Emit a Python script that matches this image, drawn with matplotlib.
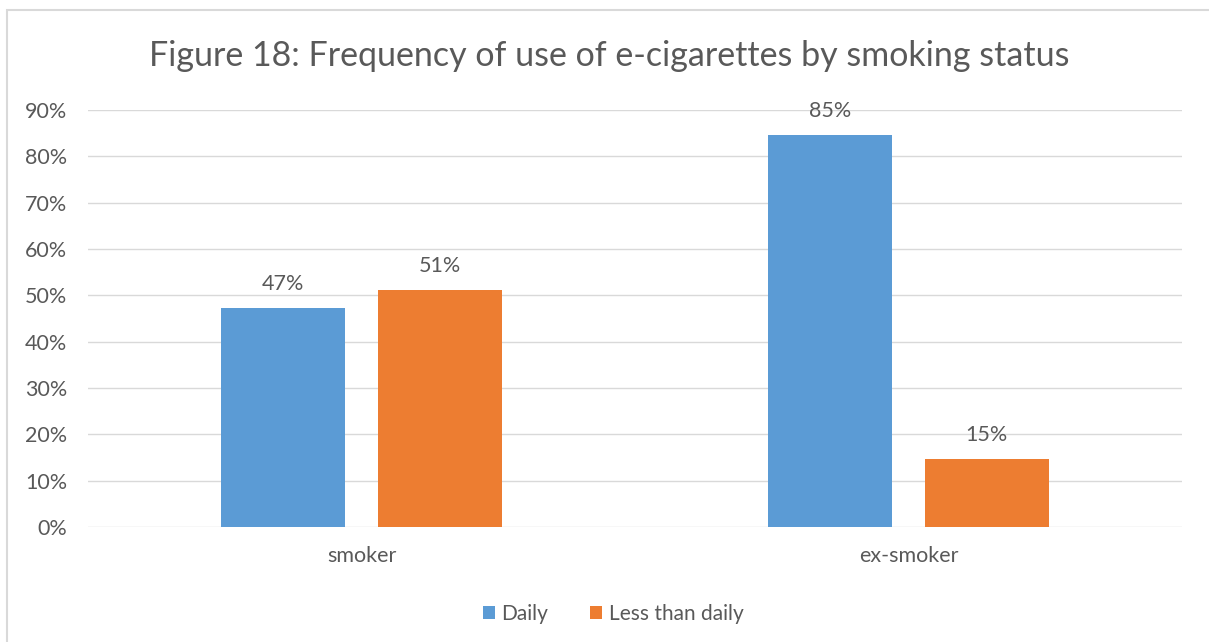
import matplotlib.pyplot as plt
from matplotlib.patches import Rectangle
from matplotlib.ticker import FuncFormatter
import numpy as np

plt.rcParams['font.family'] = ['Lato', 'DejaVu Sans']

categories = ['smoker', 'ex-smoker']
daily = [47.3, 84.6]
less_than_daily = [51.2, 14.7]
daily_labels = ['47%', '85%']
less_labels = ['51%', '15%']

TEXT = '#595959'
BLUE = '#5b9bd5'
ORANGE = '#ed7d31'
GRID = '#d9d9d9'

fig = plt.figure(figsize=(12.09, 6.42), dpi=100)
ax = fig.add_axes([88 / 1209, 1 - 527 / 642, 1094 / 1209, 417 / 642])

# frame around the chart area (cut off on right and bottom)
fig.patches.append(Rectangle((7 / 1209, -0.1), 1.5, 1 - 10 / 642 + 0.1,
                             transform=fig.transFigure, fill=False,
                             edgecolor=GRID, linewidth=1.5))

x = np.arange(len(categories)) + 0.5
w = 0.227
off = 0.143
b1 = ax.bar(x - off, daily, w, color=BLUE, label='Daily', zorder=3)
b2 = ax.bar(x + off, less_than_daily, w, color=ORANGE, label='Less than daily', zorder=3)

for bars, labels in ((b1, daily_labels), (b2, less_labels)):
    for bar, lab in zip(bars, labels):
        ax.annotate(lab, (bar.get_x() + bar.get_width() / 2, bar.get_height()),
                    xytext=(0, 10), textcoords='offset points', ha='center', va='bottom',
                    fontsize=15.5, color=TEXT)

ax.set_xlim(0, 2)
ax.set_ylim(0, 90)
ax.set_yticks(np.arange(0, 91, 10))
ax.yaxis.set_major_formatter(FuncFormatter(lambda v, p: '{:.0f}%'.format(v)))
ax.set_xticks(x)
ax.set_xticklabels(categories)
ax.tick_params(length=0, labelsize=15.5, labelcolor=TEXT)
ax.tick_params(axis='y', pad=15)
ax.tick_params(axis='x', pad=14)
ax.grid(axis='y', color=GRID, linewidth=1, zorder=0)
for s in ax.spines.values():
    s.set_visible(False)

fig.text(609 / 1209, 1 - 56 / 642, 'Figure 18: Frequency of use of e-cigarettes by smoking status',
         ha='center', va='center', fontsize=24.5, color=TEXT)

fig.legend(loc='center', bbox_to_anchor=(613 / 1209, 1 - 614 / 642), ncol=2, frameon=False,
           fontsize=15, labelcolor=TEXT, handlelength=0.6, handleheight=0.6,
           handletextpad=0.3, columnspacing=2.0)

fig.savefig('out.png', dpi=100)
